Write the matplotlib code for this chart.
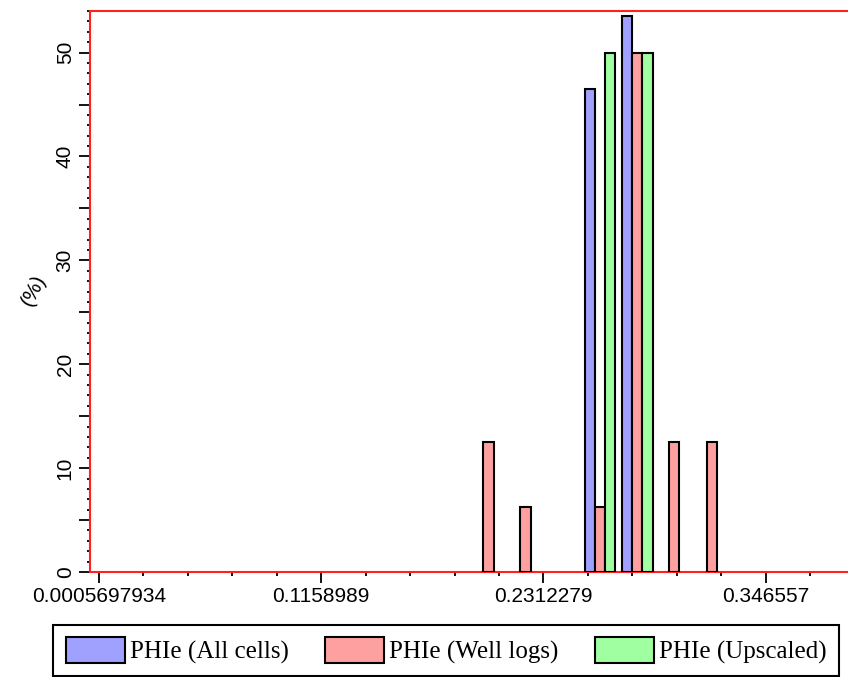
import matplotlib
matplotlib.use("Agg")
import matplotlib.pyplot as plt
from matplotlib.patches import Patch
from matplotlib.ticker import FixedLocator, MultipleLocator, FuncFormatter

# ---- data ----
bin_centers = [0.2027, 0.2220, 0.2413, 0.2606, 0.2799, 0.2992, 0.3186]
all_cells   = [0.0,    0.0,    0.0,    46.5,   53.5,   0.0,    0.0]
well_logs   = [12.5,   6.25,   0.0,    6.25,   50.0,   12.5,   12.5]
upscaled    = [0.0,    0.0,    0.0,    50.0,   50.0,   0.0,    0.0]
series_names = ["PHIe (All cells)", "PHIe (Well logs)", "PHIe (Upscaled)"]
x_tick_values = [0.0005697934, 0.1158989, 0.2312279, 0.346557]
x_tick_labels = ["0.0005697934", "0.1158989", "0.2312279", "0.346557"]

colors = ["#A0A0FF", "#FFA0A0", "#A0FFA0"]

fig = plt.figure(figsize=(8.48, 6.77), dpi=100)
ax = fig.add_axes([90/848, 1-572/677, 762/848, (572-11)/677])

bw = 0.00533
for offs, vals, col in zip([-bw, 0.0, bw], [all_cells, well_logs, upscaled], colors):
    xs = [c + offs for c in bin_centers]
    sel = [(x, v) for x, v in zip(xs, vals) if v > 0]
    ax.bar([s[0] for s in sel], [s[1] for s in sel],
           width=bw, color=col, edgecolor="black", linewidth=1.5, zorder=3)

ax.set_xlim(-0.00409, 0.3914)
ax.set_ylim(0, 54)

for s in ["left", "bottom", "top"]:
    ax.spines[s].set_color("#FF2020")
    ax.spines[s].set_linewidth(1.5)
ax.spines["right"].set_visible(False)

step = x_tick_values[1] - x_tick_values[0]
ax.xaxis.set_major_locator(FixedLocator(x_tick_values))
ax.set_xticklabels(x_tick_labels)
minor_x = [x_tick_values[0] + k * step / 5 for k in range(-1, 20)]
ax.xaxis.set_minor_locator(FixedLocator(minor_x))

ax.yaxis.set_major_locator(MultipleLocator(5))
ax.yaxis.set_major_formatter(FuncFormatter(lambda v, p: f"{int(v)}" if int(round(v)) % 10 == 0 else ""))
ax.yaxis.set_minor_locator(MultipleLocator(1))

ax.tick_params(axis="both", which="major", direction="out", length=8, width=1.3,
               color="black", labelsize=15, pad=3)
ax.tick_params(axis="both", which="minor", direction="out", length=3, width=1.3, color="black")
ax.tick_params(axis="y", which="minor", length=2)
for lab in ax.get_xticklabels():
    lab.set_fontfamily("Liberation Sans")
for lab in ax.get_yticklabels():
    lab.set_fontfamily("Liberation Sans")
    lab.set_rotation(90)
    lab.set_va("center")

fig.text(0.040, 0.572, "(%)", rotation=63, fontsize=15, family="Liberation Sans",
         ha="center", va="center")

handles = [Patch(facecolor=c, edgecolor="black", linewidth=1.5) for c in colors]
leg = fig.legend(handles, series_names, ncol=3, loc="center",
                 bbox_to_anchor=(446/848, 1-650.5/677),
                 prop={"family": "Liberation Serif", "size": 18},
                 handlelength=2.36, handleheight=1.2, handletextpad=0.2,
                 columnspacing=1.45, borderpad=0.5, fancybox=False,
                 edgecolor="black", framealpha=1)
leg.get_frame().set_linewidth(1.5)

fig.savefig("out.png", dpi=100)
